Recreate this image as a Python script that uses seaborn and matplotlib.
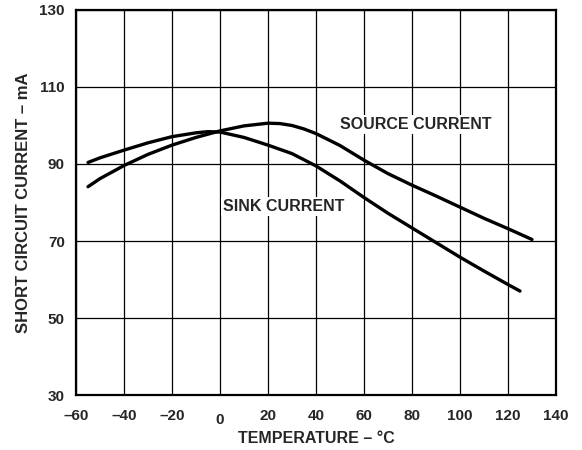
import numpy as np
import pandas as pd
import matplotlib
matplotlib.use("Agg")
import matplotlib.pyplot as plt
import matplotlib.transforms as mtransforms
import seaborn as sns

# --- DATA ---
source_temp = [-55, -50, -40, -30, -20, -10, 0, 10, 20, 25, 30, 35, 40, 50, 60, 70, 80, 90, 100, 110, 120, 130]
source_ma = [84.1, 86.2, 89.6, 92.5, 94.9, 96.9, 98.6, 99.9, 100.6, 100.5, 100.0, 99.1, 97.9, 94.8, 91.0,
             87.5, 84.5, 81.7, 78.8, 75.9, 73.2, 70.4]

sink_temp = [-55, -50, -40, -30, -20, -10, -5, 0, 10, 20, 30, 40, 50, 60, 70, 80, 90, 100, 110, 120, 125]
sink_ma = [90.4, 91.6, 93.6, 95.5, 97.1, 98.1, 98.4, 98.3, 96.9, 94.9, 92.7, 89.5, 85.6, 81.3, 77.2,
           73.4, 69.6, 65.8, 62.2, 58.7, 57.0]

x_ticks = [-60, -40, -20, 0, 20, 40, 60, 80, 100, 120, 140]
x_labels = ["\u201360", "\u201340", "\u201320", "0", "20", "40", "60", "80", "100", "120", "140"]
y_ticks = [30, 50, 70, 90, 110, 130]

df = pd.concat([
    pd.DataFrame({"temp": source_temp, "current": source_ma, "curve": "source"}),
    pd.DataFrame({"temp": sink_temp, "current": sink_ma, "curve": "sink"}),
])

sns.set_style("white")
plt.rcParams["font.family"] = ["Liberation Sans", "DejaVu Sans"]
plt.rcParams["font.weight"] = "bold"

fig = plt.figure(figsize=(5.82, 4.5), dpi=100)
ax = fig.add_axes([0.1306, 0.1222, 0.8247, 0.8556])

sns.lineplot(data=df, x="temp", y="current", hue="curve", units="curve",
             estimator=None, sort=False, palette={"source": "black", "sink": "black"},
             linewidth=2.4, legend=False, ax=ax, zorder=3)
for ln in ax.lines:
    ln.set_solid_joinstyle("round")

ax.set_xlim(-60, 140)
ax.set_ylim(30, 130)
ax.set_xticks(x_ticks)
ax.set_xticklabels(x_labels)
ax.set_yticks(y_ticks)
ax.grid(True, color="black", linewidth=0.9)
ax.tick_params(length=0, labelsize=11)
ax.tick_params(axis="x", pad=10)
ax.tick_params(axis="y", pad=8)
for lab in ax.get_xticklabels() + ax.get_yticklabels():
    lab.set_fontweight("bold")
# the "0" sits a bit lower in the original
for lab in ax.get_xticklabels():
    if lab.get_text() == "0":
        lab.set_transform(lab.get_transform() + mtransforms.ScaledTranslation(0, -3 / 72, fig.dpi_scale_trans))

for side in ax.spines.values():
    side.set_color("black")
    side.set_linewidth(1.6)

ax.set_xlabel("TEMPERATURE \u2013 \u00b0C", fontsize=11.5, fontweight="bold", labelpad=3)
ax.set_ylabel("SHORT CIRCUIT CURRENT \u2013 mA", fontsize=12, fontweight="bold", labelpad=6)

box = dict(facecolor="white", edgecolor="none", pad=1.5)
ax.text(81.5, 100.3, "SOURCE CURRENT", ha="center", va="center", fontsize=11.5,
        fontweight="bold", bbox=box, zorder=4)
ax.text(26.5, 78.9, "SINK CURRENT", ha="center", va="center", fontsize=11.5,
        fontweight="bold", bbox=box, zorder=4)

fig.savefig("out.png", dpi=100)
